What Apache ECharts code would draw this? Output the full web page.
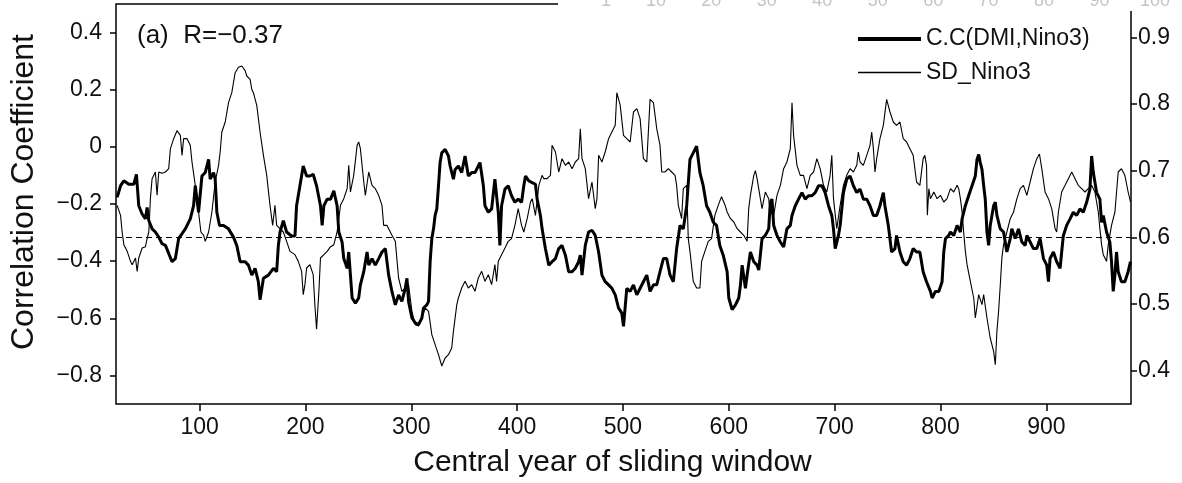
<!DOCTYPE html>
<html>
<head>
<meta charset="utf-8">
<script src="https://cdn.jsdelivr.net/npm/echarts@6/dist/echarts.min.js"></script>
<style>
  html, body { margin: 0; padding: 0; background: #fff; }
  #chart { width: 1182px; height: 483px; }
</style>
</head>
<body>
<div id="chart"></div>
<script>
// sliding correlation DMI vs Nino3 (left axis)
const ccYear = [22.1,25.3,28.4,33.1,37.8,40.3,42.5,45.7,48.8,50.4,52.0,55.1,58.2,61.4,64.5,67.7,70.8,73.9,77.1,80.2,83.4,86.5,91.2,94.3,95.9,97.5,99.0,
  102.2,105.3,108.5,110.0,113.2,114.7,116.3,118.8,122.6,127.3,132.0,135.1,138.3,143.0,146.1,149.3,152.4,155.5,157.1,160.3,165.0,169.7,172.8,174.4,176.0,179.1,182.2,186.9,190.1,191.6,194.8,197.9,
  201.1,204.2,207.3,210.5,214.2,215.8,217.4,220.5,223.7,226.8,229.9,231.5,234.6,236.2,239.4,240.9,242.5,244.1,247.2,250.3,251.9,255.1,258.2,259.8,262.9,266.0,269.2,272.3,275.5,278.6,281.7,284.9,288.0,291.1,294.3,295.9,297.4,
  300.6,303.7,306.8,310.0,311.5,314.7,316.3,317.8,319.4,321.0,322.5,324.1,325.7,327.2,328.8,332.0,335.1,336.7,339.8,341.4,344.5,347.6,350.8,353.9,357.1,360.2,363.3,364.9,368.1,369.6,372.8,375.9,379.0,382.2,383.7,385.3,388.5,391.6,394.7,397.9,
  401.0,404.2,406.3,407.9,411.0,414.2,417.3,418.9,422.0,423.6,426.7,429.9,433.0,436.2,439.3,442.4,445.6,448.7,451.9,455.0,458.1,459.7,461.3,464.4,467.5,470.7,473.8,477.0,480.1,483.2,486.4,489.5,492.7,495.8,498.9,
  500.5,503.6,506.8,509.9,513.1,516.2,519.3,522.5,525.6,528.8,531.9,535.0,538.2,541.3,544.5,547.6,550.7,553.9,557.0,560.2,563.3,566.4,569.6,572.7,575.8,579.0,582.1,585.3,588.4,591.5,594.7,
  598.4,600.0,603.1,606.3,609.4,611.0,612.6,615.7,617.3,620.4,623.6,626.7,628.3,631.4,634.5,637.7,639.2,640.8,642.4,645.5,648.7,651.8,654.9,658.1,659.7,662.8,665.9,669.1,672.2,675.3,678.5,681.6,684.8,687.9,691.0,694.2,697.3,698.9,
  700.5,703.6,705.2,708.3,711.4,714.6,717.7,720.9,724.0,727.1,730.3,733.4,736.6,739.7,742.8,746.0,747.5,750.7,753.8,757.0,758.5,761.7,764.8,768.0,771.1,774.2,777.4,780.5,783.6,786.8,
  790.5,792.1,795.2,798.4,801.5,803.1,804.7,807.8,809.4,812.5,815.7,818.8,820.4,823.5,826.6,829.8,832.9,834.5,836.1,837.6,839.2,840.8,842.3,843.9,845.5,847.0,850.2,851.8,853.3,856.5,859.6,862.7,865.9,867.4,870.6,873.7,876.9,880.0,881.6,884.7,887.8,891.0,894.1,897.3,
  900.4,902.0,903.5,906.7,909.8,913.0,914.5,916.1,919.2,922.4,925.5,928.7,931.8,934.9,938.1,941.2,942.8,944.4,947.5,950.6,952.2,953.8,956.9,960.0,961.6,963.2,964.8,966.3,967.9,971.0,974.2,977.3,979.5];
const ccVal = [-0.177,-0.136,-0.119,-0.131,-0.131,-0.096,-0.206,-0.235,-0.252,-0.212,-0.258,-0.287,-0.298,-0.316,-0.339,-0.345,-0.373,-0.402,-0.391,-0.321,-0.304,-0.287,-0.252,-0.206,-0.136,-0.183,-0.229,
  -0.102,-0.090,-0.044,-0.113,-0.090,-0.113,-0.229,-0.275,-0.275,-0.287,-0.316,-0.345,-0.402,-0.402,-0.414,-0.449,-0.425,-0.472,-0.535,-0.460,-0.449,-0.425,-0.437,-0.345,-0.298,-0.258,-0.298,-0.312,-0.312,-0.206,-0.136,-0.067,
  -0.102,-0.102,-0.096,-0.136,-0.206,-0.275,-0.206,-0.183,-0.183,-0.154,-0.206,-0.298,-0.333,-0.391,-0.425,-0.368,-0.449,-0.529,-0.547,-0.529,-0.483,-0.437,-0.368,-0.414,-0.391,-0.414,-0.391,-0.368,-0.356,-0.449,-0.506,-0.553,-0.518,-0.541,-0.495,-0.460,-0.541,
  -0.599,-0.616,-0.622,-0.599,-0.564,-0.553,-0.541,-0.402,-0.321,-0.287,-0.240,-0.217,-0.136,-0.055,-0.021,-0.009,-0.032,-0.067,-0.113,-0.079,-0.067,-0.090,-0.032,-0.102,-0.090,-0.090,-0.067,-0.055,-0.136,-0.206,-0.229,-0.217,-0.113,-0.229,-0.345,-0.206,-0.148,-0.136,-0.171,-0.194,
  -0.183,-0.194,-0.136,-0.102,-0.119,-0.125,-0.131,-0.183,-0.240,-0.287,-0.356,-0.414,-0.402,-0.391,-0.356,-0.345,-0.379,-0.437,-0.437,-0.425,-0.402,-0.379,-0.449,-0.345,-0.298,-0.292,-0.310,-0.368,-0.449,-0.472,-0.483,-0.495,-0.518,-0.564,-0.582,
  -0.628,-0.495,-0.506,-0.483,-0.518,-0.495,-0.472,-0.449,-0.506,-0.483,-0.483,-0.437,-0.391,-0.391,-0.449,-0.472,-0.356,-0.275,-0.287,-0.206,-0.044,-0.021,0.002,-0.090,-0.136,-0.206,-0.229,-0.264,-0.275,-0.345,-0.379,
  -0.437,-0.529,-0.570,-0.553,-0.529,-0.483,-0.414,-0.495,-0.449,-0.368,-0.402,-0.414,-0.431,-0.321,-0.310,-0.287,-0.194,-0.183,-0.275,-0.310,-0.333,-0.350,-0.287,-0.275,-0.240,-0.206,-0.183,-0.160,-0.183,-0.171,-0.171,-0.160,-0.136,-0.136,-0.160,-0.206,-0.240,-0.287,
  -0.356,-0.310,-0.275,-0.160,-0.113,-0.102,-0.136,-0.160,-0.148,-0.183,-0.183,-0.206,-0.240,-0.240,-0.206,-0.160,-0.206,-0.275,-0.368,-0.356,-0.310,-0.368,-0.402,-0.414,-0.391,-0.356,-0.368,-0.368,-0.437,-0.472,
  -0.506,-0.529,-0.506,-0.506,-0.472,-0.368,-0.321,-0.310,-0.298,-0.310,-0.275,-0.298,-0.252,-0.206,-0.171,-0.136,-0.102,-0.044,-0.027,-0.055,-0.079,-0.136,-0.183,-0.298,-0.345,-0.275,-0.206,-0.194,-0.240,-0.287,-0.298,-0.368,-0.321,-0.287,-0.321,-0.287,-0.333,-0.345,-0.310,-0.333,-0.356,-0.356,-0.321,-0.391,
  -0.414,-0.472,-0.391,-0.368,-0.402,-0.425,-0.368,-0.310,-0.275,-0.252,-0.229,-0.240,-0.217,-0.229,-0.194,-0.148,-0.032,-0.090,-0.160,-0.183,-0.264,-0.240,-0.298,-0.333,-0.402,-0.506,-0.449,-0.368,-0.437,-0.472,-0.472,-0.437,-0.402];

// running standard deviation of Nino3 (right axis)
const sdYear = [22.1,25.3,26.8,28.4,31.6,34.7,36.3,39.4,41.0,42.5,45.7,48.8,50.4,52.0,53.5,55.1,58.2,59.8,61.4,64.5,67.7,70.8,72.4,75.5,78.6,81.8,83.4,84.9,88.1,91.2,92.8,95.9,99.0,
  101.2,103.8,105.3,108.5,111.6,114.7,117.9,119.4,121.0,124.2,127.3,130.4,133.6,136.7,139.9,143.0,144.6,147.7,149.3,150.8,154.0,157.1,160.3,163.4,166.5,169.0,171.2,172.8,176.0,179.1,182.2,185.4,190.1,193.2,196.4,197.9,199.5,
  201.1,204.2,207.3,208.9,210.5,212.7,214.2,217.4,220.5,223.7,226.8,229.9,233.1,236.2,239.4,240.9,242.5,245.6,248.8,250.3,251.9,255.1,256.6,259.8,262.9,266.0,269.2,272.3,273.9,277.0,278.6,281.7,284.9,288.0,291.1,294.3,297.4,
  300.6,303.7,306.8,310.0,313.1,316.3,319.4,322.5,325.7,328.8,332.0,335.1,338.2,339.8,343.0,344.5,347.6,350.8,353.9,357.1,360.2,363.3,366.5,369.6,372.8,375.9,379.0,380.6,382.2,385.3,388.5,391.6,394.7,397.9,
  401.0,404.2,406.3,409.5,412.6,414.2,417.3,420.5,423.6,425.2,428.3,431.5,433.0,436.2,439.3,442.4,445.6,448.7,451.9,455.0,458.1,459.7,461.3,464.4,467.5,470.7,473.8,475.4,477.0,480.1,483.2,486.4,489.5,492.7,494.2,497.4,
  500.5,503.6,506.8,509.9,513.1,516.2,519.3,522.5,525.6,528.8,531.9,535.0,536.6,539.7,542.9,546.0,549.2,550.7,552.3,555.4,557.0,560.2,561.7,563.3,566.4,569.6,572.7,574.3,577.4,580.6,583.7,586.8,590.0,593.1,596.5,598.4,
  601.6,604.7,607.9,611.0,614.1,617.3,618.8,620.4,623.6,625.1,626.7,629.8,631.4,634.5,637.7,639.2,642.4,645.5,648.7,651.8,654.9,658.1,659.7,661.2,664.4,667.5,670.6,673.8,676.9,680.1,683.2,686.3,689.5,692.6,695.7,697.3,698.9,
  702.0,705.2,708.3,711.4,714.6,717.7,720.9,722.4,724.0,727.1,730.3,733.4,735.0,736.6,738.1,739.7,742.8,746.0,749.1,752.3,755.4,758.5,761.7,764.8,768.0,771.1,774.2,777.4,780.5,783.6,785.2,786.8,787.6,789.0,
  790.5,793.7,796.8,800.0,803.1,806.2,809.4,812.5,815.7,817.2,818.8,820.4,821.9,823.5,825.1,828.2,831.4,832.9,836.1,839.2,840.8,843.9,847.0,850.2,851.8,853.3,854.9,856.5,858.0,859.6,862.7,865.9,869.0,872.2,875.3,878.4,881.6,884.7,887.8,891.0,893.5,895.7,898.8,
  902.0,905.1,908.3,909.8,911.4,914.5,917.7,920.8,924.0,927.1,930.2,933.4,936.5,939.6,942.8,945.9,949.1,950.6,952.2,953.8,956.9,958.5,961.6,964.8,967.9,971.0,974.2,977.3,979.5];
const sdVal = [0.648,0.633,0.608,0.589,0.579,0.564,0.559,0.569,0.549,0.569,0.584,0.586,0.598,0.608,0.658,0.688,0.698,0.663,0.698,0.696,0.698,0.703,0.733,0.748,0.760,0.753,0.723,0.748,0.748,0.738,0.713,0.678,0.638,
  0.608,0.603,0.594,0.608,0.638,0.683,0.708,0.728,0.758,0.773,0.802,0.817,0.847,0.855,0.857,0.850,0.842,0.837,0.822,0.817,0.798,0.758,0.723,0.693,0.648,0.618,0.648,0.618,0.613,0.608,0.594,0.579,0.574,0.564,0.549,0.514,0.529,
  0.554,0.559,0.544,0.499,0.462,0.519,0.569,0.574,0.579,0.586,0.589,0.608,0.648,0.658,0.673,0.708,0.668,0.693,0.738,0.743,0.733,0.683,0.663,0.698,0.678,0.673,0.663,0.648,0.618,0.618,0.613,0.603,0.594,0.539,0.519,0.524,0.529,
  0.489,0.469,0.467,0.479,0.494,0.489,0.454,0.439,0.424,0.407,0.419,0.424,0.434,0.459,0.499,0.509,0.524,0.534,0.524,0.529,0.519,0.539,0.549,0.534,0.544,0.529,0.559,0.534,0.564,0.574,0.584,0.594,0.598,0.618,
  0.643,0.618,0.608,0.628,0.653,0.658,0.633,0.678,0.693,0.688,0.688,0.693,0.738,0.728,0.698,0.718,0.708,0.713,0.703,0.713,0.718,0.763,0.718,0.703,0.658,0.683,0.643,0.658,0.723,0.713,0.728,0.748,0.758,0.768,0.817,0.798,
  0.753,0.748,0.743,0.788,0.793,0.778,0.718,0.713,0.807,0.802,0.763,0.738,0.698,0.698,0.703,0.698,0.693,0.678,0.648,0.628,0.673,0.678,0.598,0.579,0.534,0.524,0.524,0.564,0.579,0.594,0.598,0.633,0.648,0.661,0.648,0.638,
  0.628,0.623,0.613,0.608,0.603,0.594,0.643,0.663,0.693,0.700,0.688,0.658,0.643,0.668,0.658,0.638,0.633,0.663,0.678,0.703,0.713,0.733,0.802,0.753,0.708,0.693,0.693,0.673,0.693,0.698,0.718,0.703,0.678,0.668,0.693,0.723,0.658,
  0.613,0.648,0.678,0.693,0.703,0.698,0.708,0.728,0.713,0.708,0.723,0.738,0.758,0.733,0.698,0.718,0.748,0.768,0.807,0.788,0.773,0.768,0.773,0.748,0.743,0.733,0.723,0.683,0.678,0.718,0.723,0.708,0.633,0.673,
  0.658,0.668,0.658,0.663,0.653,0.658,0.673,0.668,0.678,0.673,0.658,0.638,0.608,0.579,0.559,0.534,0.509,0.479,0.514,0.499,0.514,0.479,0.449,0.429,0.409,0.459,0.489,0.529,0.569,0.589,0.608,0.628,0.638,0.658,0.673,0.678,0.663,0.683,0.703,0.718,0.725,0.703,0.668,
  0.658,0.643,0.613,0.608,0.638,0.668,0.678,0.688,0.698,0.688,0.678,0.673,0.668,0.673,0.678,0.668,0.638,0.613,0.589,0.574,0.564,0.589,0.618,0.638,0.698,0.703,0.693,0.668,0.653];

const xTicks = [100, 200, 300, 400, 500, 600, 700, 800, 900];
const leftTicks = [-0.8, -0.6, -0.4, -0.2, 0, 0.2, 0.4];
const rightTicks = [0.4, 0.5, 0.6, 0.7, 0.8, 0.9];
const refLevel = 0.6;            // dashed reference line, right axis
const panelLabel = '(a)  R=\u22120.37';
const stripTicks = [1, 10, 20, 30, 40, 50, 60, 70, 80, 90, 100];  // cut-off axis of the panel above

const FONT = 'Liberation Sans';
const pairs = (xs, ys) => xs.map((x, i) => [x, ys[i]]);
const signed = v => {
  if (Math.abs(v) < 1e-9) return '0';
  return (v < 0 ? '\u2212' : '') + Math.abs(v).toFixed(1);
};

const chart = echarts.init(document.getElementById('chart'));

// labels of the neighbouring panel that peek in at the top edge
const stripX = v => 606 + (v - 1) * 5.545;
const stripGraphics = stripTicks.map(v => ({
  type: 'text', x: stripX(v), y: 1, z: 101,
  style: { text: String(v), font: '18px ' + FONT, fill: '#c4c4c4', align: 'center', verticalAlign: 'middle' }
}));

const option = {
  animation: false,
  backgroundColor: '#fff',
  title: {
    text: panelLabel, left: 137, top: 23, padding: 0,
    textStyle: { fontFamily: FONT, fontSize: 26, fontWeight: 'normal', color: '#111' }
  },
  legend: {
    orient: 'vertical', left: 858, top: 27, padding: 0,
    itemWidth: 63, itemHeight: 14, itemGap: 9.5,
    textStyle: { fontFamily: FONT, fontSize: 23, color: '#111', lineHeight: 24 },
    data: [
      { name: 'C.C(DMI,Nino3)', icon: 'path://M0 0H63V4.2H0Z' },
      { name: 'SD_Nino3', icon: 'path://M0 0H63V1.3H0Z' }
    ]
  },
  grid: {
    left: 112, right: 51, top: 4, bottom: 77,
    show: true, borderColor: '#000', borderWidth: 1.5
  },
  xAxis: {
    type: 'value', min: 21, max: 980,
    name: 'Central year of sliding window', nameLocation: 'middle', nameGap: 44,
    nameTextStyle: { fontFamily: FONT, fontSize: 30, color: '#111', padding: [0, 22, 0, 0] },
    axisLine: { show: false, onZero: false },
    splitLine: { show: false },
    axisTick: { show: true, customValues: xTicks, length: 7, lineStyle: { color: '#000', width: 1.5 } },
    axisLabel: { customValues: xTicks, fontFamily: FONT, fontSize: 23, color: '#111', margin: 12 }
  },
  yAxis: [{
    type: 'value', min: -0.9, max: 0.5, position: 'left',
    name: 'Correlation Coefficient', nameLocation: 'middle', nameRotate: 90, nameGap: 76,
    nameTextStyle: { fontFamily: FONT, fontSize: 32, color: '#111', padding: [0, 0, 0, 24] },
    axisLine: { show: false, onZero: false },
    splitLine: { show: false },
    axisTick: { show: true, customValues: leftTicks, length: 6, lineStyle: { color: '#000', width: 1.5 } },
    axisLabel: { customValues: leftTicks, formatter: signed, fontFamily: FONT, fontSize: 23, color: '#111', margin: 14 }
  }, {
    type: 'value', min: 0.35, max: 0.95, position: 'right',
    axisLine: { show: false, onZero: false },
    splitLine: { show: false },
    axisTick: { show: true, customValues: rightTicks, length: 6, lineStyle: { color: '#000', width: 1.5 } },
    axisLabel: { customValues: rightTicks, formatter: v => v.toFixed(1), fontFamily: FONT, fontSize: 23, color: '#111', margin: 7 }
  }],
  series: [{
    name: 'C.C(DMI,Nino3)', type: 'line', yAxisIndex: 0,
    data: pairs(ccYear, ccVal),
    symbol: 'none', z: 3,
    lineStyle: { color: '#000', width: 3 },
    itemStyle: { color: '#000' }
  }, {
    name: 'SD_Nino3', type: 'line', yAxisIndex: 1,
    data: pairs(sdYear, sdVal),
    symbol: 'none', z: 2,
    lineStyle: { color: '#000', width: 1.1 },
    itemStyle: { color: '#000' },
    markLine: {
      silent: true, symbol: 'none', label: { show: false },
      lineStyle: { color: '#000', width: 1.2, type: [6, 4] },
      data: [{ yAxis: refLevel }]
    }
  }],
  graphic: [
    { type: 'rect', z: 100, shape: { x: 558, y: 0, width: 624, height: 11 }, style: { fill: '#fff' } }
  ].concat(stripGraphics)
};

chart.setOption(option);
</script>
</body>
</html>
